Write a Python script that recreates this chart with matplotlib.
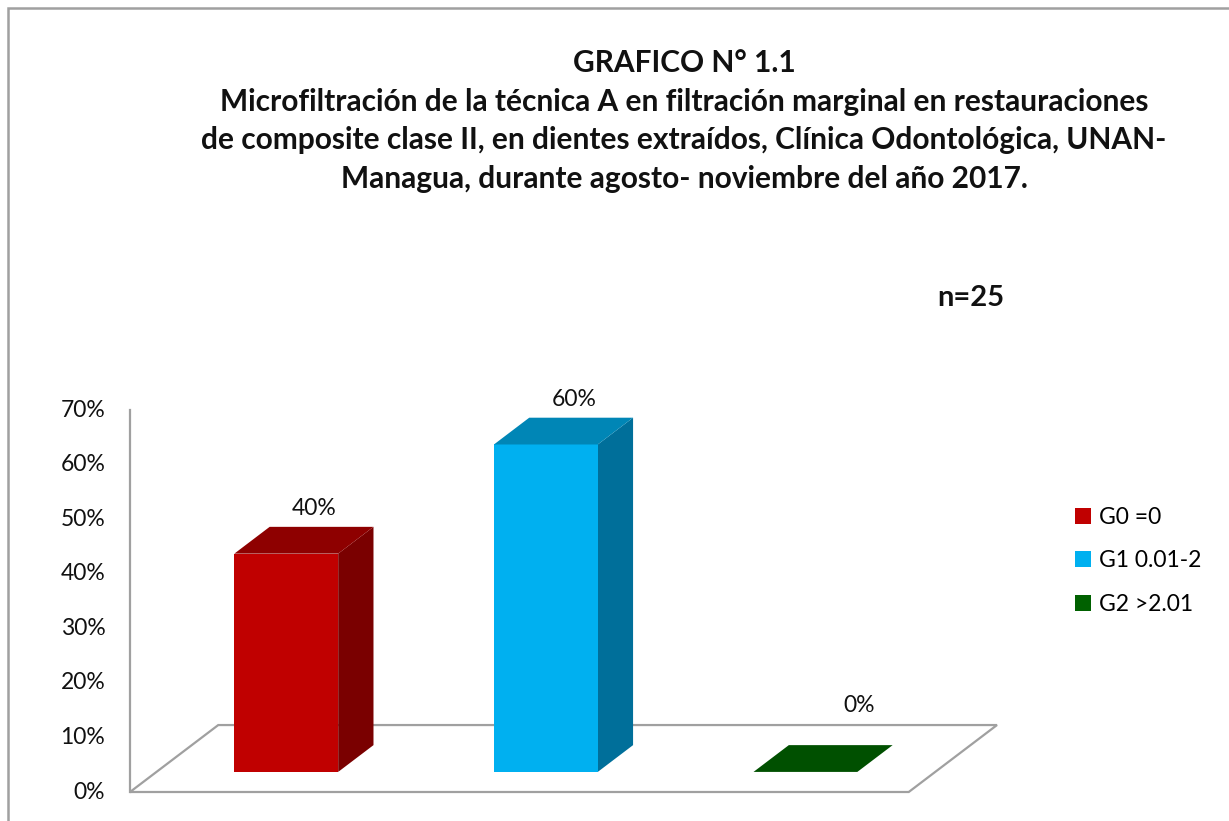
import matplotlib
matplotlib.use("Agg")
import matplotlib.pyplot as plt
from matplotlib.patches import Polygon, Rectangle, Patch

plt.rcParams['font.family'] = ['Lato', 'DejaVu Sans']

# data
categories = ['G0 =0', 'G1 0.01-2', 'G2 >2.01']
values = [40, 60, 0]
value_labels = ['40%', '60%', '0%']
yticks = [0, 10, 20, 30, 40, 50, 60, 70]
ytick_labels = ['0%', '10%', '20%', '30%', '40%', '50%', '60%', '70%']

front_col = ['#C00000', '#00B0F0', '#005000']
top_col = ['#8E0000', '#0086B6', '#005000']
side_col = ['#7A0000', '#006F9A', '#003C00']

title = ("GRAFICO N° 1.1\n"
         "Microfiltración de la técnica A en filtración marginal en restauraciones\n"
         "de composite clase II, en dientes extraídos, Clínica Odontológica, UNAN-\n"
         "Managua, durante agosto- noviembre del año 2017.")

# oblique "3d" depth offsets (data units)
DX, DY = 0.34, 12.27
f0, f1 = 0.3, 0.7
bar_w = 0.4
floor_c = '#A0A0A0'

W, H = 1229, 821
fig = plt.figure(figsize=(W / 100, H / 100), dpi=100)
ax = fig.add_axes([130 / W, (H - 792) / H, (997 - 130) / W, (792 - 410) / H])
ax.set_xlim(0, len(categories) + DX)
ax.set_ylim(0, 70)
ax.axis('off')

# left axis line + floor
ax.plot([0, 0], [0, 70], color=floor_c, lw=1.6, clip_on=False)
n = len(categories)
ax.add_patch(Polygon([(0, 0), (n, 0), (n + DX, DY), (DX, DY)], closed=True,
                     facecolor='white', edgecolor=floor_c, lw=1.6, clip_on=False))

for t, lab in zip(yticks, ytick_labels):
    ax.text(-0.095, t, lab, ha='right', va='center', fontsize=16.5, color='#111111')

# bars
for i, v in enumerate(values):
    x0 = i + 0.5 - bar_w / 2 + f0 * DX
    y0 = f0 * DY
    ddx, ddy = (f1 - f0) * DX, (f1 - f0) * DY
    if v > 0:
        ax.add_patch(Polygon([(x0 + bar_w, y0), (x0 + bar_w + ddx, y0 + ddy),
                              (x0 + bar_w + ddx, y0 + ddy + v), (x0 + bar_w, y0 + v)],
                             closed=True, facecolor=side_col[i], edgecolor='none'))
        ax.add_patch(Rectangle((x0, y0), bar_w, v, facecolor=front_col[i], edgecolor='none'))
    ax.add_patch(Polygon([(x0, y0 + v), (x0 + bar_w, y0 + v),
                          (x0 + bar_w + ddx, y0 + v + ddy), (x0 + ddx, y0 + v + ddy)],
                         closed=True, facecolor=top_col[i], edgecolor='none'))
    ly = max(v, 4) + f1 * DY + 3.3
    ax.text(i + 0.5 + 0.21 + (0.1 if v == 0 else 0), ly, value_labels[i],
            ha='center', va='center', fontsize=16.5, color='#111111')

handles = [Patch(facecolor=c, edgecolor='none') for c in ['#C00000', '#00B0F0', '#006100']]
fig.legend(handles, categories, loc='upper left', bbox_to_anchor=(1075 / W, 1 - 507 / H),
           frameon=False, fontsize=16.5, handlelength=0.7, handleheight=0.7,
           handletextpad=0.35, labelspacing=0.98, borderpad=0, borderaxespad=0)

fig.text(684 / W, 1 - 121 / H, title, ha='center', va='center', fontsize=21.5,
         fontweight='bold', linespacing=1.47, color='#111111')
fig.text(971 / W, 1 - 298 / H, 'n=25', ha='center', va='center', fontsize=21,
         fontweight='bold', color='#111111')

# outer chart border
fig.patches.append(Rectangle((8 / W, -0.1), 1.2, 1.1 - 8 / H, transform=fig.transFigure,
                             fill=False, edgecolor='#A0A0A0', lw=1.8))

fig.savefig('out.png', dpi=100)
